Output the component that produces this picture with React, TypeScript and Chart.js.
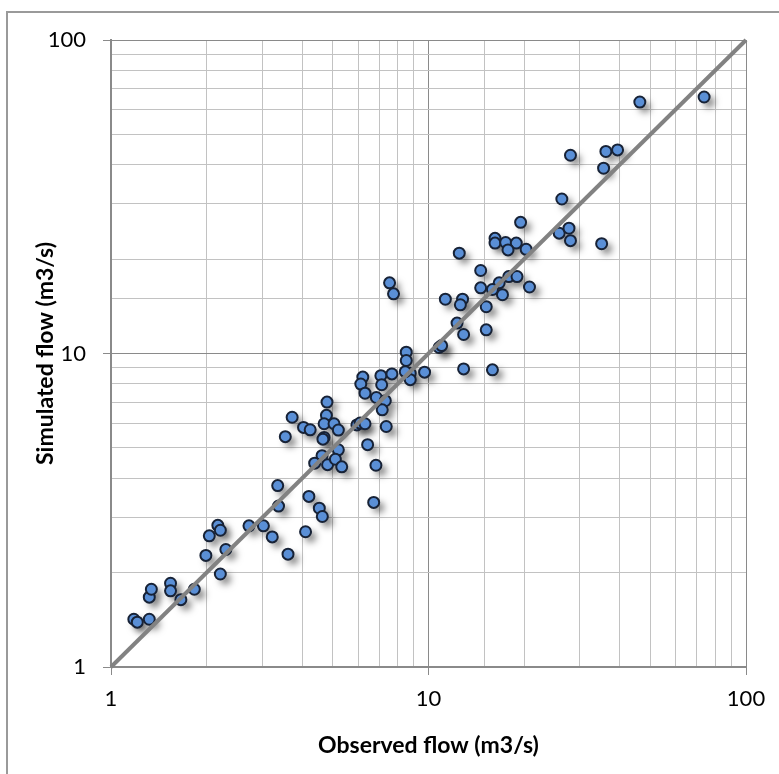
import React, { useEffect, useRef } from 'react';
import { Chart, registerables } from 'chart.js';

Chart.register(...registerables);

// Observed (x) and simulated (y) flows, m3/s
const observed = [
  1.18, 1.21, 1.32, 1.32, 1.34, 1.54, 1.54, 1.66, 1.83, 2.21,
  1.99, 2.30, 2.04, 2.17, 2.21, 2.72, 3.02, 3.22, 3.61, 4.10,
  3.37, 3.35, 4.20, 4.53, 4.63, 6.72, 3.54, 3.72, 4.04, 4.24,
  4.79, 4.77, 4.69, 5.04, 5.20, 4.69, 4.65, 5.20, 4.62, 4.38,
  4.81, 5.09, 5.33, 6.43, 6.83, 7.36, 5.95, 6.09, 6.31, 6.21,
  6.12, 6.31, 7.08, 7.67, 7.12, 6.85, 7.31, 7.15, 8.51, 8.51,
  8.76, 8.76, 9.72, 8.45, 19.5, 16.2, 16.2, 17.5, 18.9, 17.8,
  20.3, 25.8, 27.7, 28.0, 12.5, 14.6, 17.9, 19.0, 20.8, 14.6,
  16.7, 17.1, 15.9, 15.2, 11.3, 12.8, 12.6, 12.3, 12.9, 15.2,
  7.54, 7.76, 10.8, 11.0, 12.9, 15.9, 46.3, 73.8, 28.0, 36.2,
  39.4, 35.6, 26.3, 35.1,
];
const simulated = [
  1.42, 1.39, 1.42, 1.67, 1.77, 1.85, 1.75, 1.64, 1.77, 1.98,
  2.27, 2.37, 2.62, 2.83, 2.73, 2.82, 2.82, 2.60, 2.29, 2.70,
  3.26, 3.79, 3.50, 3.21, 3.02, 3.35, 5.43, 6.26, 5.81, 5.71,
  7.00, 6.35, 5.97, 5.97, 5.70, 5.40, 5.33, 4.93, 4.72, 4.47,
  4.42, 4.60, 4.35, 5.12, 4.40, 5.85, 5.92, 6.00, 5.97, 8.41,
  7.99, 7.47, 8.50, 8.61, 7.95, 7.24, 7.07, 6.61, 10.1, 9.50,
  8.65, 8.25, 8.72, 8.75, 26.2, 23.3, 22.5, 22.6, 22.5, 21.4,
  21.5, 24.2, 25.1, 22.9, 20.9, 18.4, 17.6, 17.6, 16.3, 16.2,
  16.8, 15.4, 16.0, 14.1, 14.9, 14.9, 14.3, 12.5, 11.5, 11.9,
  16.8, 15.5, 10.45, 10.6, 8.93, 8.87, 63.4, 65.8, 42.9, 44.1,
  44.6, 39.0, 31.1, 22.4,
];

// 1:1 reference line
const lineX = [1, 100];
const lineY = [1, 100];

const tickLabels = [1, 10, 100];
const xTitle = 'Observed flow (m3/s)';
const yTitle = 'Simulated flow (m3/s)';

const FONT = 'Lato';

const isMajor = (v: number) => {
  const l = Math.log10(v);
  return Math.abs(l - Math.round(l)) < 1e-9;
};

const gridColor = (c: any) => (c.tick && isMajor(c.tick.value) ? '#8a8a8a' : '#c2c2c2');
const tickColor = (c: any) => (c.tick && isMajor(c.tick.value) ? '#8a8a8a' : 'rgba(0,0,0,0)');
const labelCb = (v: any) => (tickLabels.includes(Number(v)) ? String(v) : '');

const shadowPlugin = {
  id: 'markerShadow',
  beforeDatasetDraw(chart: any, args: any) {
    const ds = chart.data.datasets[args.index];
    if (!ds || ds.label !== 'points') return;
    const ctx = chart.ctx;
    const off = 10000;
    ctx.save();
    ctx.shadowColor = 'rgba(0,0,0,0.5)';
    ctx.shadowBlur = 7;
    ctx.shadowOffsetX = off + 5;
    ctx.shadowOffsetY = 5;
    ctx.fillStyle = '#000';
    args.meta.data.forEach((pt: any) => {
      ctx.beginPath();
      ctx.arc(pt.x - off, pt.y, 5.5, 0, Math.PI * 2);
      ctx.fill();
    });
    ctx.restore();
  },
};

export default function App() {
  const ref = useRef<HTMLCanvasElement | null>(null);

  useEffect(() => {
    if (!ref.current) return;
    const points = observed.map((x, i) => ({ x, y: simulated[i] }));
    const line = lineX.map((x, i) => ({ x, y: lineY[i] }));
    const chart = new Chart(ref.current, {
      type: 'scatter',
      data: {
        datasets: [
          {
            type: 'line',
            label: 'line',
            data: line,
            borderColor: '#828282',
            borderWidth: 4,
            pointRadius: 0,
            fill: false,
            order: 0,
            clip: false,
          } as any,
          {
            type: 'scatter',
            label: 'points',
            data: points,
            pointRadius: 5.5,
            pointBackgroundColor: '#5a8fd6',
            pointBorderColor: '#172236',
            pointBorderWidth: 2,
            order: 1,
          } as any,
        ],
      },
      options: {
        animation: false,
        responsive: false,
        maintainAspectRatio: false,
        layout: { padding: { top: 40, right: 33, left: 0, bottom: 0 } },
        plugins: {
          legend: { display: false },
          tooltip: { enabled: false },
        },
        scales: {
          x: {
            type: 'logarithmic',
            position: 'bottom',
            min: 1,
            max: 100,
            afterFit: (s: any) => {
              s.height = 107;
            },
            ticks: {
              autoSkip: false,
              maxRotation: 0,
              padding: 11,
              color: '#000',
              font: { family: FONT, size: 22 },
              callback: labelCb,
            },
            grid: {
              color: gridColor,
              lineWidth: 1,
              tickColor: tickColor,
              tickLength: 8,
              drawTicks: true,
            },
            border: { color: '#8a8a8a', width: 2 },
            title: {
              display: true,
              text: xTitle,
              color: '#000',
              font: { family: FONT, size: 23, weight: 'bold' },
              padding: { top: 0, bottom: 15 },
            },
          } as any,
          y: {
            type: 'logarithmic',
            position: 'left',
            min: 1,
            max: 100,
            afterFit: (s: any) => {
              s.width = 111;
            },
            ticks: {
              autoSkip: false,
              padding: 17,
              color: '#000',
              font: { family: FONT, size: 22 },
              callback: labelCb,
            },
            grid: {
              color: gridColor,
              lineWidth: 1,
              tickColor: tickColor,
              tickLength: 8,
              drawTicks: true,
            },
            border: { color: '#8a8a8a', width: 2 },
            title: {
              display: true,
              text: yTitle,
              color: '#000',
              font: { family: FONT, size: 23, weight: 'bold' },
              padding: { top: 32, bottom: 0 },
            },
          } as any,
        },
      },
      plugins: [shadowPlugin],
    });
    return () => chart.destroy();
  }, []);

  return (
    <div
      style={{
        position: 'absolute',
        left: 0,
        top: 0,
        width: 779,
        height: 774,
        overflow: 'hidden',
        background: '#fff',
      }}
    >
      <div
        style={{
          position: 'absolute',
          left: 6,
          top: 11,
          width: 800,
          height: 800,
          borderTop: '2px solid #9a9a9a',
          borderLeft: '2px solid #9a9a9a',
        }}
      />
      <canvas
        ref={ref}
        width={779}
        height={774}
        style={{ position: 'absolute', left: 0, top: 0, width: 779, height: 774 }}
      />
    </div>
  );
}
